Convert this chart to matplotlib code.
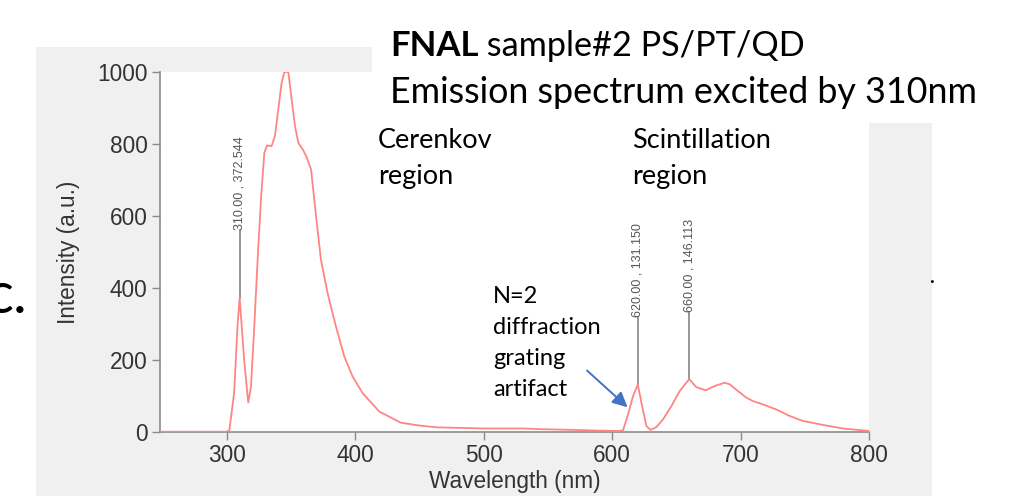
import matplotlib
matplotlib.use("Agg")
import matplotlib.pyplot as plt
from matplotlib.patches import Rectangle

W, H = 1034, 496

# ---- data ----
wavelength = [248, 260, 280, 300, 302, 305.7, 308.3, 310, 313.5, 316.7, 318.8, 321.4,
              324, 326.6, 329.2, 331.3, 334.9, 337.5, 340.1, 342.7, 344.8, 347.9,
              350.5, 353.1, 355.7, 359.1, 362, 365.6, 368, 369.5, 373.3, 378.5,
              385, 391.5, 398, 405.8, 418.7, 435.5, 450, 464, 500, 530,
              545, 570, 590, 605, 608.5, 612.4, 616.3, 620, 623.6, 626.7, 629.8,
              634.5, 639.6, 646.1, 652.6, 660, 665.5, 672.8, 679.8, 687.6, 691.5,
              697.9, 704.4, 709.6, 717.4, 727.7, 738.1, 748.4, 764, 779.5, 800]
intensity = [0, 0, 0, 0, 5, 107, 292, 372.5, 200, 81, 125, 292,
             478, 645, 775, 796, 794, 822, 896, 970, 1000, 1000,
             924, 850, 803, 785, 765, 729, 650, 599, 478, 385,
             292, 209, 153, 107, 56, 25, 17, 12, 9, 9,
             7, 5, 3, 2, 4, 48, 99, 131, 67, 16, 5,
             13, 34, 71, 113, 146, 124, 115, 127, 136, 132,
             113, 95, 85, 76, 62, 44, 30, 19, 9, 2]

peak_wl = [310.00, 620.00, 660.00]
peak_val = [372.544, 131.150, 146.113]

x_ticks = [300, 400, 500, 600, 700, 800]
y_ticks = [0, 200, 400, 600, 800, 1000]

title_bold = "FNAL"
title_rest = " sample#2 PS/PT/QD"
title_line2 = "Emission spectrum excited by 310nm"

# ---- figure ----
fig = plt.figure(figsize=(W / 100, H / 100), dpi=100, facecolor="white")

def fx(px):
    return px / W

def fy(py):
    return 1 - py / H

# grey panel background and white title box (behind the axes)
fig.patches.append(Rectangle((fx(36), fy(496)), fx(932) - fx(36), fy(47) - fy(496),
                             transform=fig.transFigure, facecolor="#f0f0f0",
                             edgecolor="none", zorder=-20))
fig.patches.append(Rectangle((fx(372), fy(123)), 1 - fx(372), 1 - fy(123),
                             transform=fig.transFigure, facecolor="white",
                             edgecolor="none", zorder=-19))

ax = fig.add_axes([fx(160), fy(431.7), fx(869) - fx(160), fy(72) - fy(431.7)])
ax.set_zorder(1)
ax.set_facecolor("white")
ax.plot(wavelength, intensity, color="#ff8585", lw=1.3, zorder=3)
ax.set_xlim(248, 800)
ax.set_ylim(0, 1000)
ax.set_xticks(x_ticks)
ax.set_yticks(y_ticks)

tick_font = dict(family="Liberation Sans", size=16.3, color="#333333")
ax.set_xticklabels([str(t) for t in x_ticks], **tick_font)
ax.set_yticklabels([str(t) for t in y_ticks], **tick_font)
for s in ["top", "right"]:
    ax.spines[s].set_visible(False)
for s in ["left", "bottom"]:
    ax.spines[s].set_color("#8c8c8c")
    ax.spines[s].set_linewidth(1.2)
ax.tick_params(direction="out", length=6, width=1.0, color="#8c8c8c", pad=3)
ax.set_xlabel("Wavelength (nm)", family="Liberation Sans", size=16.3, color="#333333", labelpad=2)
ax.set_ylabel("Intensity (a.u.)", family="Liberation Sans", size=16.3, color="#333333", labelpad=12)

# peak markers
for w, v in zip(peak_wl, peak_val):
    top = v + 188
    ax.plot([w, w], [v, top], color="#7a7a7a", lw=1.1, zorder=2)
    ax.text(w, top, f"{w:.2f} , {v:.3f}", rotation=90, ha="center", va="bottom",
            family="Liberation Sans", size=9, color="#555555", zorder=4)

# arrow for diffraction artifact
ax.annotate("", xy=(612, 68), xytext=(580.5, 170),
            arrowprops=dict(arrowstyle="-|>,head_length=0.9,head_width=0.45",
                            color="#4472C4", lw=1.4, shrinkA=0, shrinkB=0), zorder=5)

cal = ["Lato", "DejaVu Sans"]
# title
t1 = fig.text(fx(390), fy(56), title_bold, family=cal, weight="bold", size=25,
              color="black", va="baseline", ha="left")
fig.canvas.draw()
bb = t1.get_window_extent()
fig.text(bb.x1 / W, fy(56), title_rest, family=cal, size=24.7, color="black",
         va="baseline", ha="left")
fig.text(fx(390), fy(103), title_line2, family=cal, size=25.8, color="black",
         va="baseline", ha="left")

# region labels
fig.text(fx(378), fy(148), "Cerenkov", family=cal, size=19.5, va="baseline")
fig.text(fx(378), fy(184), "region", family=cal, size=19.5, va="baseline")
fig.text(fx(632), fy(148), "Scintillation", family=cal, size=19.5, va="baseline")
fig.text(fx(632), fy(184), "region", family=cal, size=19.5, va="baseline")

for i, s in enumerate(["N=2", "diffraction", "grating", "artifact"]):
    fig.text(fx(493), fy(303 + 31 * i), s, family=cal, size=17, va="baseline")

# partial panel letter and stray dot
fig.text(fx(-14), fy(313), "c.", family=cal, size=42, va="baseline")
fig.text(fx(929), fy(283), ".", family=cal, size=14, weight="bold", va="baseline")

fig.savefig("out.png", dpi=100, facecolor="white")
